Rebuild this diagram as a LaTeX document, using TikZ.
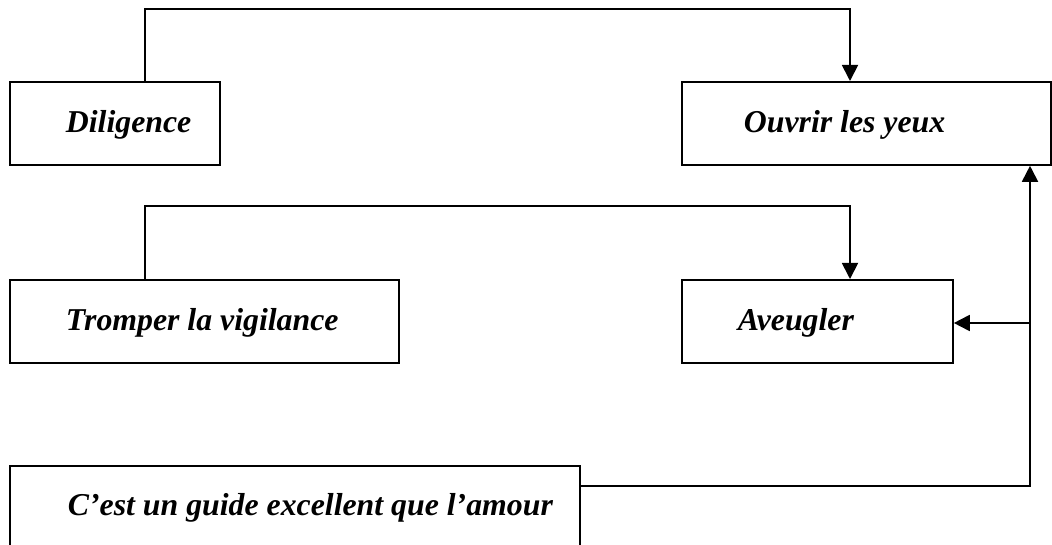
\documentclass[tikz,border=0pt]{standalone}
\usepackage{fontspec}
\setmainfont{Liberation Serif}
\usetikzlibrary{arrows.meta}
\newcommand{\boxtext}[3]{\makebox[#1][l]{\hspace{#2}\raisebox{-9.5pt}[0pt][0pt]{#3}}}
\begin{document}
\begin{tikzpicture}[x=1pt,y=-1pt,
  box/.style={draw=black, line width=1.8pt, fill=white, inner sep=0pt, anchor=north west,
    font=\fontsize{31.8}{36}\selectfont\bfseries\itshape},
  conn/.style={draw=black, line width=1.8pt},
  arr/.style={conn, -{Triangle[width=16pt,length=16pt]}}]
\useasboundingbox (0,0) rectangle (1052,545);
\node[box, minimum height=83pt] (dil) at (9,81) {\boxtext{210pt}{56pt}{Diligence}};
\node[box, minimum height=83pt] (ouv) at (681,81) {\boxtext{369pt}{62pt}{Ouvrir les yeux}};
\node[box, minimum height=83pt] (tro) at (9,279) {\boxtext{389pt}{56pt}{Tromper la vigilance}};
\node[box, minimum height=83pt] (ave) at (681,279) {\boxtext{271pt}{56pt}{Aveugler}};
\node[box, minimum height=80pt] (ces) at (9,465) {\boxtext{570pt}{58pt}{C’est un guide excellent que l’amour}};
\coordinate (t1) at (145,9);
\coordinate (t2) at (145,206);
\coordinate (j1) at (1030,323);
\coordinate (j2) at (1030,486);
\draw[arr] (dil.north -| t1) -- (t1) -| ([xshift=169pt]ouv.north west);
\draw[arr] (tro.north -| t2) -- (t2) -| ([xshift=169pt]ave.north west);
\draw[arr] (ces.east |- j2) -- (j2) -- (ouv.south -| j2);
\draw[arr] (j1) -- (ave.east |- j1);
\end{tikzpicture}
\end{document}
